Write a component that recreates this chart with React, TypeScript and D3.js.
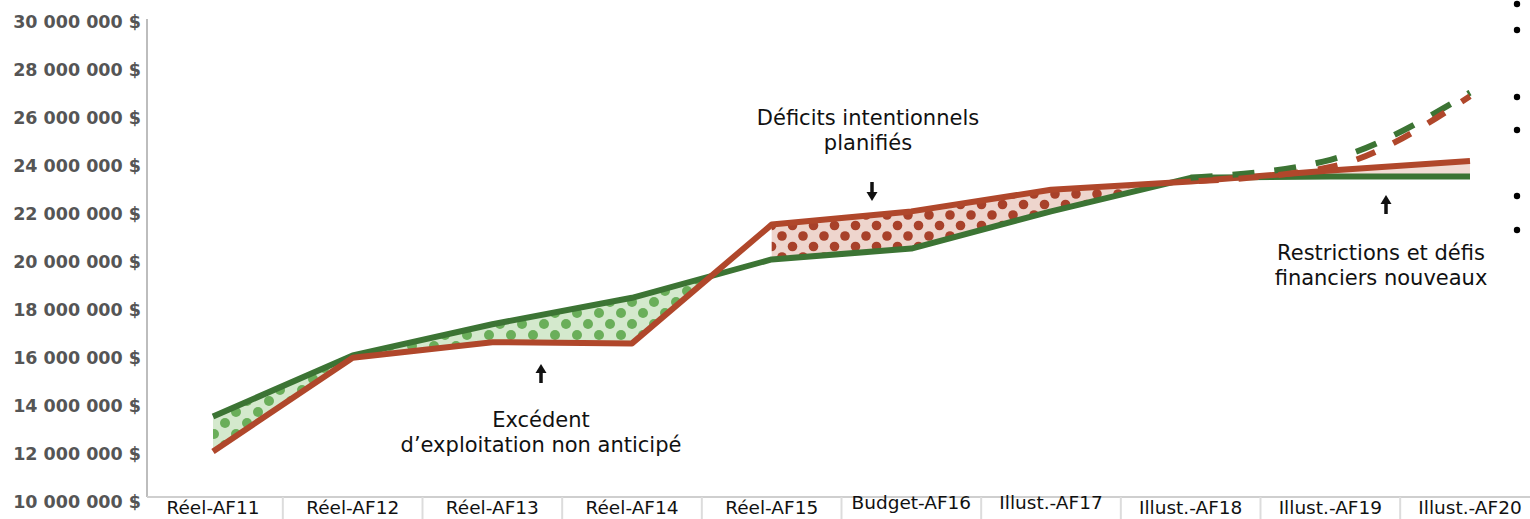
import * as d3 from 'd3'

// categories & values (in $)
const categories = ["Réel-AF11", "Réel-AF12", "Réel-AF13", "Réel-AF14", "Réel-AF15", "Budget-AF16", "Illust.-AF17", "Illust.-AF18", "Illust.-AF19", "Illust.-AF20"]
const revenus = [13350000, 15900000, 17200000, 18300000, 19900000, 20350000, 21900000, 23300000, 23350000, 23350000]
const depenses = [11900000, 15800000, 16450000, 16400000, 21350000, 21900000, 22800000, 23150000, 23600000, 24000000]
// projected (dashed) scenario, starting at AF18
const revenusProj = [23300000, 24050000, 26850000]
const depensesProj = [23150000, 23750000, 26700000]
const yTicks = [10000000, 12000000, 14000000, 16000000, 18000000, 20000000, 22000000, 24000000, 26000000, 28000000, 30000000]

const GREEN = "#3c7434"
const RED = "#b0472b"
const FONT = "DejaVu Sans, Verdana, sans-serif"

const W = 1530, H = 519

function Arrow({ x, y, up }: { x: number, y: number, up: boolean }) {
    // y = tip of the arrow
    const d = up ? 1 : -1
    return (
        <g>
            <line x1={x} x2={x} y1={y + d * 7} y2={y + d * 19} stroke="#111" strokeWidth={3.5} />
            <path d={`M${x - 5.5},${y + d * 9} L${x},${y} L${x + 5.5},${y + d * 9} Z`} fill="#111" />
        </g>
    )
}

export default function App() {
    const x = d3.scalePoint<string>().domain(categories).range([213, 1470])
    const y = d3.scaleLinear().domain([10000000, 30000000]).range([497, 17])

    const pts = (vals: number[], offset = 0) => vals.map((v, i) => [x(categories[i + offset]) as number, y(v)] as [number, number])
    const line = d3.line()
    const smooth = d3.line().curve(d3.curveMonotoneX)

    const green = pts(revenus)
    const red = pts(depenses)

    // area between the two series
    const between = (from: number, to: number) => d3.area<number>()
        .x(i => x(categories[i]) as number)
        .y0(i => y(depenses[i]))
        .y1(i => y(revenus[i]))(d3.range(from, to + 1))

    // region above a polyline (for clipping)
    const above = (p: [number, number][]) => "M" + p.map(q => q.join(",")).join("L") + `L${p[p.length - 1][0]},0L${p[0][0]},0Z`

    const fmt = (v: number) => d3.format(",")(v).replace(/,/g, " ") + " $"

    const gaps = categories.slice(1).map((c, i) => ((x(categories[i]) as number) + (x(c) as number)) / 2)
    const bullets = [4, 30, 97, 130, 196, 230]

    return (
        <svg width={W} height={H} style={{ position: "absolute", left: 0, top: 0, background: "#fff" }}>
            <defs>
                <pattern id="dotsGreen" patternUnits="userSpaceOnUse" width={22} height={22}>
                    <rect width={22} height={22} fill="#d4e9cd" />
                    <circle cx={5} cy={5} r={5} fill="#6aae5a" />
                    <circle cx={16} cy={16} r={5} fill="#6aae5a" />
                </pattern>
                <pattern id="dotsRed" patternUnits="userSpaceOnUse" width={21} height={21}>
                    <rect width={21} height={21} fill="#eed5cd" />
                    <circle cx={5} cy={5} r={4.8} fill="#a8412a" />
                    <circle cx={15.5} cy={15.5} r={4.8} fill="#a8412a" />
                </pattern>
                <clipPath id="aboveRed"><path d={above(red)} /></clipPath>
                <clipPath id="aboveGreen"><path d={above(green)} /></clipPath>
            </defs>

            {/* axes */}
            <line x1={147} x2={147} y1={y(30000000) + 2} y2={y(10000000)} stroke="#bdbdbd" strokeWidth={2} />
            <line x1={147} x2={W} y1={y(10000000)} y2={y(10000000)} stroke="#cfcfcf" strokeWidth={2} />
            {gaps.map((g, i) => (
                <line key={i} x1={g} x2={g} y1={y(10000000)} y2={H} stroke="#dcdcdc" strokeWidth={2} />
            ))}
            {yTicks.map(t => (
                <text key={t} x={141} y={y(t) + 11} textAnchor="end" fontFamily={FONT} fontSize={17.5}
                    fontWeight="bold" fill="#555">{fmt(t)}</text>
            ))}
            {categories.map((c, i) => (
                <text key={c} x={x(c)} y={i === 5 || i === 6 ? 509 : 514} textAnchor="middle" fontFamily={FONT}
                    fontSize={18.5} fill="#111">{c}</text>
            ))}

            {/* filled gaps */}
            <path d={between(0, 4) as string} fill="url(#dotsGreen)" clipPath="url(#aboveRed)" />
            <path d={between(4, 7) as string} fill="url(#dotsRed)" clipPath="url(#aboveGreen)" />
            <path d={between(7, 9) as string} fill="#f2dcd5" clipPath="url(#aboveGreen)" />
            <path d={line(pts([23150000, 23460000, 23650000], 7).map(([a, b], i) => [a, b + 5 + i * 1.2] as [number, number])) as string}
                fill="none" stroke="#fff" strokeWidth={2.5} strokeDasharray="14 10" />

            {/* series */}
            <path d={line(green) as string} fill="none" stroke={GREEN} strokeWidth={6} strokeLinejoin="round" />
            <path d={line(red) as string} fill="none" stroke={RED} strokeWidth={6} strokeLinejoin="round" />
            <path d={smooth(pts(revenusProj, 7)) as string} fill="none" stroke={GREEN} strokeWidth={6} strokeDasharray="22 20" />
            <path d={smooth(pts(depensesProj, 7)) as string} fill="none" stroke={RED} strokeWidth={6} strokeDasharray="20 20" strokeDashoffset={-8} />

            {/* annotations */}
            <text x={868} y={125} textAnchor="middle" fontFamily={FONT} fontSize={21} fill="#111">Déficits intentionnels</text>
            <text x={868} y={150} textAnchor="middle" fontFamily={FONT} fontSize={21} fill="#111">planifiés</text>
            <Arrow x={872} y={201} up={false} />

            <Arrow x={541} y={364} up={true} />
            <text x={541} y={427} textAnchor="middle" fontFamily={FONT} fontSize={21} fill="#111">Excédent</text>
            <text x={541} y={452} textAnchor="middle" fontFamily={FONT} fontSize={21} fill="#111">d’exploitation non anticipé</text>

            <Arrow x={1386} y={195} up={true} />
            <text x={1381} y={260} textAnchor="middle" fontFamily={FONT} fontSize={21} fill="#111">Restrictions et défis</text>
            <text x={1381} y={285} textAnchor="middle" fontFamily={FONT} fontSize={21} fill="#111">financiers nouveaux</text>

            {bullets.map(b => <circle key={b} cx={1517} cy={b} r={3.2} fill="#000" />)}
        </svg>
    )
}
